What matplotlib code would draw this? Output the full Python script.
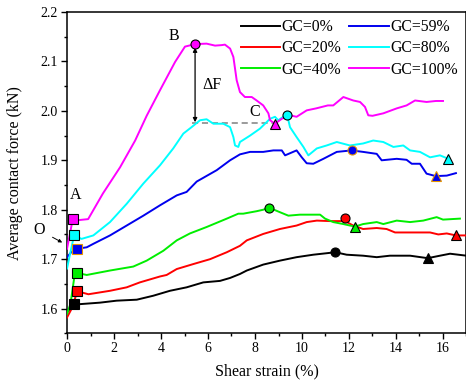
import matplotlib
matplotlib.use("Agg")
import matplotlib.pyplot as plt
from matplotlib.ticker import MultipleLocator

plt.rcParams['font.family'] = ['Liberation Serif', 'DejaVu Serif']
plt.rcParams['mathtext.fontset'] = 'stix'

labels = ["GC=0%", "GC=20%", "GC=40%", "GC=59%", "GC=80%", "GC=100%"]
colors = ["#000000", "#ff0000", "#00ee00", "#0000ee", "#00ffff", "#ff00ff"]

x0 = [0, 0.3, 0.55, 1.4, 2.11, 2.97, 3.67, 4.38, 5.09, 5.8, 6.51, 6.94, 7.36, 7.65, 8.35, 9.06,
      9.77, 10.48, 11.05, 11.42, 11.9, 12.6, 13.18, 13.74, 14.6, 15.35, 15.87, 16.3, 17.0]
y0 = [1.592, 1.609, 1.609, 1.612, 1.616, 1.618, 1.626, 1.636, 1.643, 1.653, 1.656, 1.662, 1.670,
      1.677, 1.689, 1.697, 1.704, 1.709, 1.712, 1.714, 1.709, 1.707, 1.704, 1.707, 1.707, 1.702,
      1.707, 1.711, 1.707]

x20 = [0, 0.2, 0.44, 0.91, 1.83, 2.54, 3.1, 3.96, 4.24, 4.67, 5.37, 6.09, 6.8, 7.36, 7.65, 8.35,
       9.06, 9.77, 10.2, 10.63, 11.19, 11.83, 12.18, 12.6, 13.18, 13.6, 13.96, 14.6, 15.45, 15.8,
       16.16, 16.55, 17.0]
y20 = [1.582, 1.60, 1.635, 1.629, 1.636, 1.643, 1.653, 1.665, 1.668, 1.680, 1.690, 1.700, 1.714,
       1.727, 1.738, 1.751, 1.761, 1.768, 1.775, 1.778, 1.777, 1.777, 1.768, 1.761, 1.763, 1.761,
       1.754, 1.754, 1.754, 1.750, 1.752, 1.748, 1.748]

x40 = [0, 0.15, 0.3, 0.44, 0.84, 1.83, 2.82, 3.39, 4.1, 4.67, 5.23, 5.94, 6.8, 7.29, 7.5, 8.07,
       8.35, 8.61, 9.06, 9.42, 9.91, 10.77, 10.98, 11.33, 11.76, 12.04, 12.26, 12.6, 13.18, 13.46,
       14.03, 14.6, 15.16, 15.73, 16.0, 16.72]
y40 = [1.589, 1.61, 1.66, 1.672, 1.668, 1.677, 1.685, 1.697, 1.717, 1.738, 1.752, 1.765, 1.782,
       1.792, 1.792, 1.797, 1.800, 1.804, 1.795, 1.788, 1.790, 1.790, 1.782, 1.775, 1.771, 1.768,
       1.766, 1.771, 1.775, 1.771, 1.778, 1.775, 1.778, 1.785, 1.780, 1.782]

x59 = [0, 0.2, 0.44, 0.84, 1.12, 1.83, 2.54, 3.25, 3.96, 4.67, 5.09, 5.52, 6.37, 6.94, 7.36, 7.79,
       8.35, 8.78, 9.14, 9.28, 9.77, 9.99, 10.2, 10.48, 10.91, 11.48, 12.11, 12.6, 13.18, 13.39,
       14.03, 14.45, 14.67, 15.02, 15.3, 15.69, 16.16, 16.55]
y59 = [1.704, 1.715, 1.721, 1.724, 1.731, 1.748, 1.768, 1.788, 1.809, 1.829, 1.836, 1.857, 1.880,
       1.900, 1.912, 1.917, 1.917, 1.920, 1.920, 1.910, 1.920, 1.906, 1.894, 1.893, 1.903, 1.917,
       1.920, 1.917, 1.913, 1.900, 1.903, 1.901, 1.893, 1.893, 1.873, 1.868, 1.869, 1.874]

x80 = [0, 0.15, 0.3, 0.62, 1.12, 1.83, 2.54, 3.25, 3.96, 4.52, 4.95, 5.3, 5.66, 5.94, 6.23, 6.65,
       6.94, 7.08, 7.15, 7.29, 7.36, 7.79, 8.21, 8.64, 8.85, 8.99, 9.2, 9.37, 9.49, 9.77, 10.06,
       10.27, 10.63, 11.05, 11.48, 12.04, 12.6, 13.03, 13.46, 13.89, 14.31, 14.6, 15.02, 15.45,
       15.87, 16.23]
y80 = [1.681, 1.715, 1.748, 1.741, 1.748, 1.775, 1.812, 1.853, 1.890, 1.924, 1.954, 1.967, 1.981,
       1.983, 1.974, 1.974, 1.967, 1.947, 1.930, 1.927, 1.937, 1.950, 1.964, 1.984, 1.988, 1.981,
       1.988, 1.991, 1.967, 1.947, 1.927, 1.910, 1.924, 1.930, 1.937, 1.930, 1.934, 1.940, 1.937,
       1.927, 1.930, 1.920, 1.917, 1.906, 1.910, 1.903]

x100 = [0, 0.1, 0.2, 0.26, 0.5, 0.9, 1.53, 2.26, 2.9, 3.39, 3.96, 4.6, 5.02, 5.45, 5.94, 6.3,
        6.58, 6.72, 6.94, 7.08, 7.22, 7.36, 7.57, 7.86, 8.07, 8.35, 8.57, 8.64, 8.85, 9.14, 9.49,
        9.77, 10.2, 10.6, 11.1, 11.33, 11.76, 12.18, 12.47, 12.68, 12.82, 13.0, 13.46, 14.03,
        14.45, 14.81, 15.3, 15.7, 16.0]
y100 = [1.721, 1.745, 1.77, 1.782, 1.779, 1.781, 1.833, 1.886, 1.940, 1.990, 2.042, 2.099, 2.130,
        2.135, 2.136, 2.132, 2.133, 2.134, 2.126, 2.109, 2.062, 2.038, 2.028, 2.028, 2.021, 2.011,
        1.995, 1.981, 1.974, 1.984, 1.991, 1.988, 2.001, 2.005, 2.011, 2.011, 2.028, 2.021, 2.018,
        2.008, 1.991, 1.990, 1.995, 2.005, 2.011, 2.021, 2.018, 2.020, 2.020]

# characteristic points: square (A), circle (peak), triangle (residual)
sq_x = [0.3, 0.44, 0.44, 0.44, 0.3, 0.26]
sq_y = [1.609, 1.635, 1.672, 1.721, 1.748, 1.782]
ci_x = [11.42, 11.83, 8.61, 12.11, 9.37, 5.45]
ci_y = [1.714, 1.783, 1.804, 1.920, 1.991, 2.135]
tr_x = [15.35, 16.55, 12.26, 15.69, 16.23, 8.85]
tr_y = [1.702, 1.748, 1.766, 1.868, 1.903, 1.974]

xs = [x0, x20, x40, x59, x80, x100]
ys = [y0, y20, y40, y59, y80, y100]

fig = plt.figure(figsize=(4.66, 3.90), dpi=100)
ax = fig.add_axes([67 / 466, 56.7 / 390, 399.5 / 466, 321.3 / 390])

handles = []
for i in range(6):
    h, = ax.plot(xs[i], ys[i], color=colors[i], lw=1.4, label=labels[i], zorder=3)
    handles.append(h)

for i in range(6):
    ec = "#e69500" if i == 3 else "black"
    ax.plot(sq_x[i], sq_y[i], marker="s", ms=6.5, mfc=colors[i], mec=ec, mew=0.8, ls="none", zorder=5)
    ax.plot(ci_x[i], ci_y[i], marker="o", ms=6.5, mfc=colors[i], mec=ec, mew=0.8, ls="none", zorder=5)
    ax.plot(tr_x[i], tr_y[i], marker="^", ms=7, mfc=colors[i], mec=ec, mew=0.8, ls="none", zorder=5)

# Delta F annotation
ax.plot([5.3, 8.85], [1.975, 1.975], ls=(0, (4, 2.5)), color="gray", lw=1.1, zorder=2)
ax.annotate("", xy=(5.45, 1.977), xytext=(5.45, 2.128),
            arrowprops=dict(arrowstyle="<|-|>", color="black", lw=0.9,
                            mutation_scale=6, shrinkA=0, shrinkB=0), zorder=4)
ax.text(6.16, 2.052, "ΔF", fontsize=11.5, ha="center", va="center")
ax.text(4.55, 2.151, "B", fontsize=11.5, ha="center", va="center")
ax.text(8.0, 1.998, "C", fontsize=11.5, ha="center", va="center")
ax.text(0.38, 1.829, "A", fontsize=11.5, ha="center", va="center")
ax.text(-1.19, 1.758, "O", fontsize=11.5, ha="center", va="center", clip_on=False)
ax.annotate("", xy=(-0.1, 1.731), xytext=(-0.72, 1.747),
            arrowprops=dict(arrowstyle="-|>", color="black", lw=0.7, mutation_scale=5),
            annotation_clip=False)

ax.set_xlim(0, 17)
ax.set_ylim(1.55, 2.2)
ax.xaxis.set_major_locator(MultipleLocator(2))
ax.xaxis.set_minor_locator(MultipleLocator(1))
ax.yaxis.set_major_locator(MultipleLocator(0.1))
ax.yaxis.set_minor_locator(MultipleLocator(0.05))
ax.tick_params(which="major", direction="out", length=4.5, width=1, labelsize=10, pad=2)
ax.tick_params(which="minor", direction="out", length=2.5, width=1)
ax.tick_params(top=False, right=False)
for s in ax.spines.values():
    s.set_linewidth(1.1)

ax.set_xlabel("Shear strain (%)", fontsize=11.5, labelpad=6)
ax.set_ylabel("Average contact force (kN)", fontsize=11.5, labelpad=13)

leg = ax.legend(handles=handles, ncol=2, frameon=False, fontsize=11.3,
                loc="upper left", bbox_to_anchor=(241 / 466, 1 - 19 / 390),
                bbox_transform=fig.transFigure, borderpad=0, borderaxespad=0,
                handlelength=2.5, handletextpad=0.1, columnspacing=0.5,
                labelspacing=0.35)

fig.savefig("out.png", dpi=100)
